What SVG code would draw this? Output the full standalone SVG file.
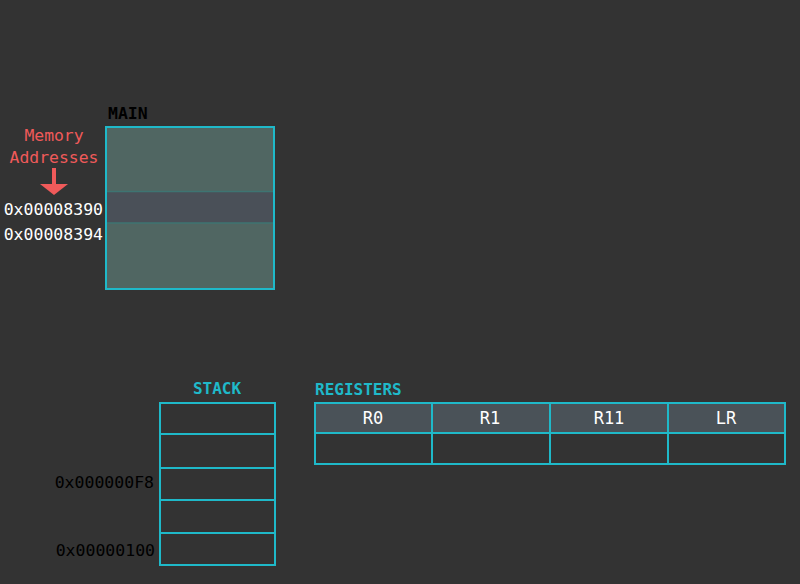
<svg xmlns="http://www.w3.org/2000/svg" width="800" height="584" viewBox="0 0 800 584">
<style>
text{font-family:"DejaVu Sans Mono","Liberation Mono",monospace}
.cell{fill:none;stroke:#1fb9c9;stroke-width:2}
.addr{font-size:16.5px;text-anchor:end}
.hdr{font-size:17px;fill:#ffffff;text-anchor:middle}
.lbl{font-size:16px;font-weight:bold;fill:#1fb9c9}
</style>
<rect width="800" height="584" fill="#333333"/>
<g id="main">
<text x="108" y="119" font-size="16.5" font-weight="bold" fill="#000000">MAIN</text>
<rect x="106" y="127" width="168" height="162" fill="#506662"/>
<rect x="107" y="191" width="166" height="32" fill="#4a5058"/>
<line x1="107" y1="191.5" x2="273" y2="191.5" stroke="#3e7472" stroke-width="1.5"/>
<line x1="107" y1="223" x2="273" y2="223" stroke="#3e7472" stroke-width="1.5"/>
<rect x="106" y="127" width="168" height="162" class="cell"/>
</g>
<g id="memory-label">
<text x="54" y="141" font-size="16.4" fill="#f05a5a" text-anchor="middle">Memory</text>
<text x="54" y="163" font-size="16.4" fill="#f05a5a" text-anchor="middle">Addresses</text>
<rect x="52" y="168" width="4" height="17" fill="#f05a5a"/>
<polygon points="40,184 68,184 54,195" fill="#f05a5a"/>
</g>
<g id="main-addrs">
<text x="103" y="215" class="addr" fill="#ffffff">0x00008390</text>
<text x="103" y="240" class="addr" fill="#ffffff">0x00008394</text>
</g>
<g id="stack">
<text x="217" y="394" class="lbl" text-anchor="middle">STACK</text>
<rect x="160" y="403" width="115" height="31" class="cell"/>
<rect x="160" y="434" width="115" height="34" class="cell"/>
<rect x="160" y="468" width="115" height="32" class="cell"/>
<rect x="160" y="500" width="115" height="33" class="cell"/>
<rect x="160" y="533" width="115" height="32" class="cell"/>
<text x="154" y="488" class="addr" fill="#000000">0x000000F8</text>
<text x="155" y="556" class="addr" fill="#000000">0x00000100</text>
</g>
<g id="registers">
<text x="315" y="395" class="lbl">REGISTERS</text>
<rect x="315" y="403" width="470" height="30" fill="#4a5258"/>
<rect x="315" y="403" width="470" height="61" class="cell"/>
<line x1="315" y1="433" x2="785" y2="433" class="cell"/>
<line x1="432" y1="403" x2="432" y2="464" class="cell"/>
<line x1="550" y1="403" x2="550" y2="464" class="cell"/>
<line x1="668" y1="403" x2="668" y2="464" class="cell"/>
<text x="373" y="424" class="hdr">R0</text>
<text x="490" y="424" class="hdr">R1</text>
<text x="609" y="424" class="hdr">R11</text>
<text x="726" y="424" class="hdr">LR</text>
</g>
</svg>
